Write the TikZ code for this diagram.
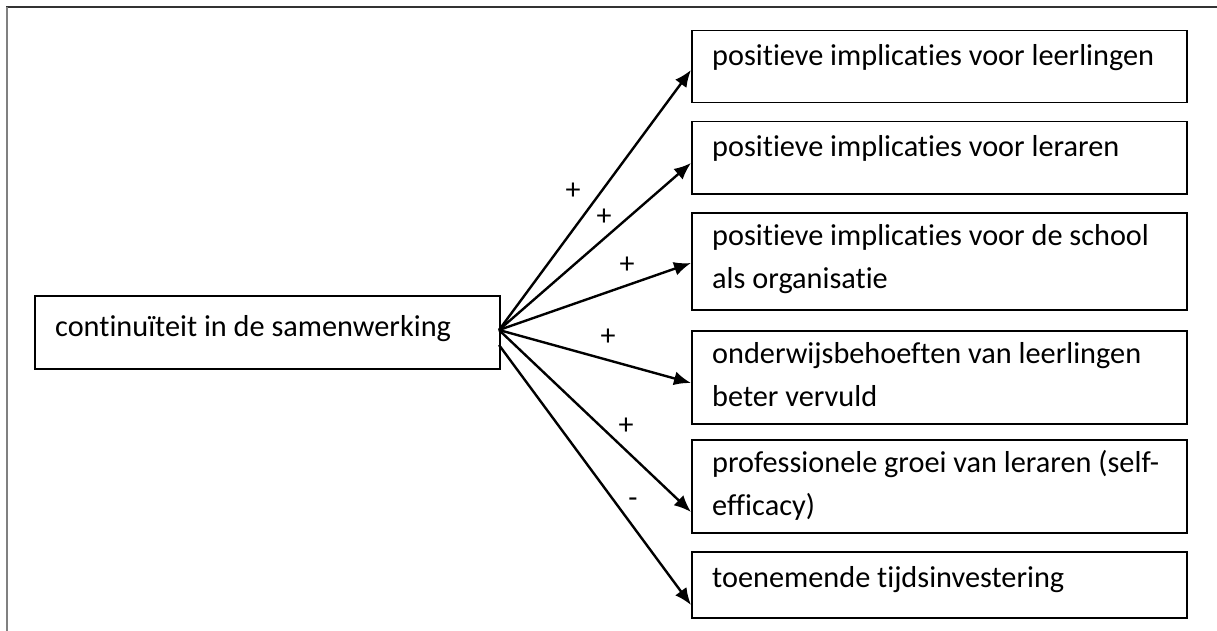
\documentclass[tikz,border=0pt]{standalone}
\usepackage{fontspec}
\setmainfont{Carlito}[Ligatures=NoCommon]
\usetikzlibrary{arrows.meta}
\begin{document}
\begin{tikzpicture}[x=1pt,y=-1pt,
  box/.style={draw=black,line width=1.5pt,anchor=north west,inner sep=0pt},
  txt/.style={anchor=base west,inner sep=0pt,font=\fontsize{30.3}{43}\selectfont,align=left},
  link/.style={line width=2.4pt,-{Latex[length=17pt,width=14pt]}},
  sign/.style={font=\fontsize{30}{30}\selectfont,inner sep=0pt}]
\useasboundingbox (0,0) rectangle (1217,631);
% outer frame edges
\draw[line width=1.3pt,black!80] (6,7) -- (1217,7);
\draw[line width=2pt,black!50] (7,7) -- (7,631);
% source box
\node[box,minimum width=465pt,minimum height=73pt] (src) at (34,295) {};
\node[txt] (srct) at (55,336) {continuïteit in de samenwerking};
% outcome boxes
\node[box,minimum width=495pt,minimum height=72pt] (b1) at (691,30) {};
\node[box,minimum width=495pt,minimum height=72pt] (b2) at (691,121) {};
\node[box,minimum width=495pt,minimum height=97pt] (b3) at (691,212) {};
\node[box,minimum width=495pt,minimum height=93pt] (b4) at (691,330) {};
\node[box,minimum width=495pt,minimum height=93pt] (b5) at (691,439) {};
\node[box,minimum width=495pt,minimum height=66pt] (b6) at (691,551) {};
% labels; multi-line nodes are placed by their last baseline
\node[txt] (t1) at (712,66) {positieve implicaties voor leerlingen};
\node[txt] (t2) at (712,157) {positieve implicaties voor leraren};
\node[txt] (t3) at (712,288) {positieve implicaties voor de school\\als organisatie};
\node[txt] (t4) at (712,406) {onderwijsbehoeften van leerlingen\\beter vervuld};
\node[txt] (t5) at (712,515) {professionele groei van leraren (self-\\efficacy)};
\node[txt] (t6) at (712,587) {toenemende tijdsinvestering};
% arrows from the source box
\coordinate (o) at (499,330);
\coordinate (o2) at (499,345);
\draw[link] (o) -- (b1.west |- 0,70);
\draw[link] (o) -- (b2.west |- 0,163);
\draw[link] (o) -- (b3.west |- 0,263);
\draw[link] (o) -- (b4.west |- 0,383);
\draw[link] (o) -- (b5.west |- 0,512);
\draw[link] (o2) -- (b6.west |- 0,605);
% signs
\node[sign] (s1) at (573,191) {+};
\node[sign] (s2) at (604,217) {+};
\node[sign] (s3) at (627,265) {+};
\node[sign] (s4) at (608,337) {+};
\node[sign] (s5) at (626,426) {+};
\node[sign] (s6) at (633,503) {-};
\end{tikzpicture}
\end{document}
